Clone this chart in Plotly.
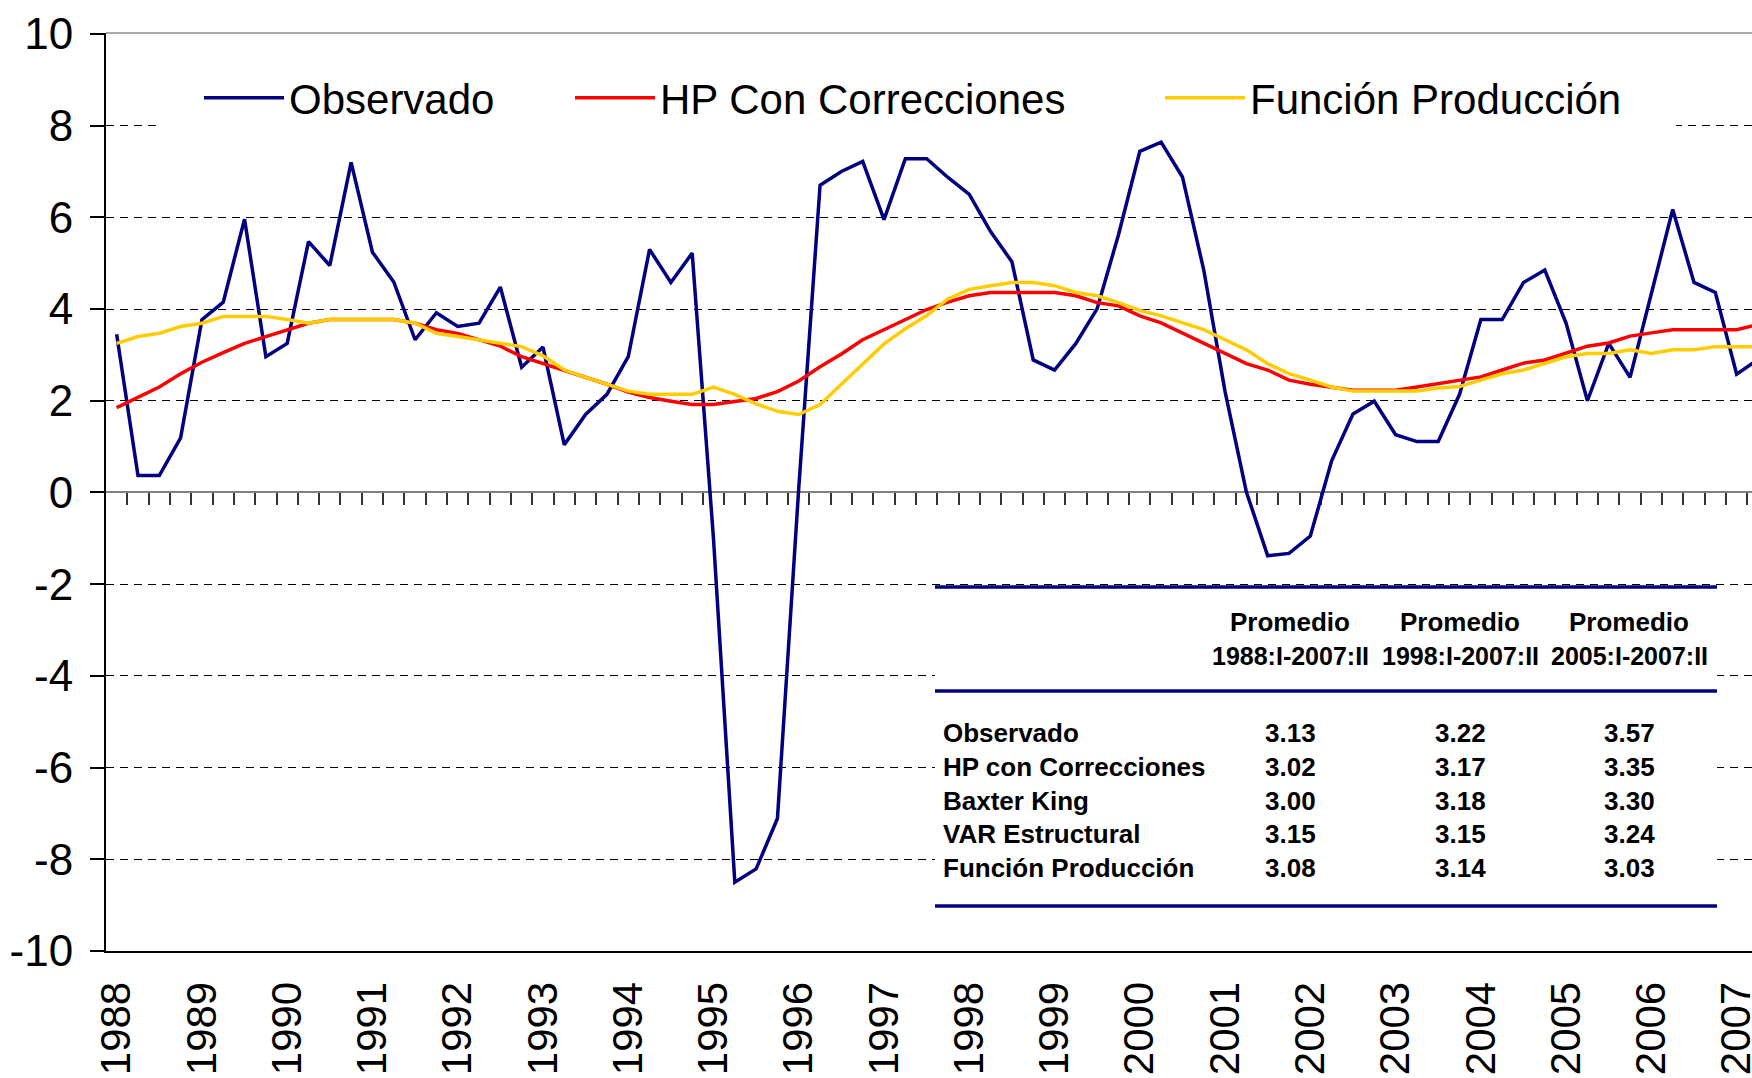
import plotly.graph_objects as go

# tasas trimestrales, 1988:I - 2007:II
start_year = 1988
observado = [3.45, 0.37, 0.37, 1.19, 3.77, 4.15, 5.96, 2.96, 3.25, 5.47,
             4.95, 7.20, 5.24, 4.59, 3.33, 3.92, 3.62, 3.69, 4.48, 2.73,
             3.17, 1.04, 1.70, 2.14, 2.96, 5.30, 4.58, 5.22, -1.01, -8.50,
             -8.21, -7.11, 0.10, 6.70, 7.00, 7.22, 5.95, 7.28, 7.28, 6.87,
             6.50, 5.69, 5.03, 2.89, 2.67, 3.25, 4.01, 5.62, 7.44, 7.64,
             6.88, 4.85, 2.20, 0.01, -1.38, -1.33, -0.95, 0.69, 1.71, 1.99,
             1.26, 1.11, 1.11, 2.14, 3.77, 3.77, 4.58, 4.85, 3.69, 2.00,
             3.25, 2.51, 4.34, 6.17, 4.58, 4.36, 2.58, 2.90]
hp_correcciones = [1.85, 2.08, 2.30, 2.59, 2.84, 3.05, 3.25, 3.40, 3.55, 3.69,
                   3.77, 3.77, 3.77, 3.77, 3.69, 3.55, 3.47, 3.33, 3.19, 2.96,
                   2.81, 2.67, 2.51, 2.36, 2.19, 2.07, 1.99, 1.92, 1.92, 1.98,
                   2.05, 2.20, 2.43, 2.74, 3.02, 3.33, 3.55, 3.77, 3.99, 4.15,
                   4.29, 4.36, 4.36, 4.36, 4.36, 4.29, 4.14, 4.07, 3.85, 3.70,
                   3.48, 3.25, 3.03, 2.81, 2.67, 2.45, 2.36, 2.29, 2.23, 2.23,
                   2.23, 2.30, 2.37, 2.45, 2.52, 2.67, 2.82, 2.89, 3.05, 3.19,
                   3.26, 3.41, 3.48, 3.55, 3.55, 3.55, 3.55, 3.66]
funcion_produccion = [3.25, 3.40, 3.47, 3.62, 3.69, 3.84, 3.84, 3.84, 3.77, 3.69,
                      3.77, 3.77, 3.77, 3.77, 3.69, 3.47, 3.40, 3.33, 3.25, 3.18,
                      2.98, 2.67, 2.51, 2.36, 2.21, 2.14, 2.14, 2.14, 2.30, 2.14,
                      1.93, 1.77, 1.70, 1.92, 2.36, 2.80, 3.24, 3.57, 3.86, 4.22,
                      4.43, 4.51, 4.58, 4.58, 4.51, 4.36, 4.29, 4.14, 3.97, 3.85,
                      3.69, 3.55, 3.33, 3.11, 2.81, 2.59, 2.45, 2.30, 2.21, 2.21,
                      2.21, 2.21, 2.28, 2.31, 2.45, 2.59, 2.67, 2.81, 2.96, 3.03,
                      3.03, 3.11, 3.03, 3.11, 3.11, 3.18, 3.18, 3.18]

year_labels = [str(y) for y in range(1988, 2008)]
y_ticks = list(range(-10, 11, 2))

# tabla de promedios
table_methods = ["Observado", "HP con Correcciones", "Baxter King",
                 "VAR Estructural", "Función Producción"]
table_periods = ["1988:I-2007:II", "1998:I-2007:II", "2005:I-2007:II"]
prom_1988 = [3.13, 3.02, 3.00, 3.15, 3.08]
prom_1998 = [3.22, 3.17, 3.18, 3.15, 3.14]
prom_2005 = [3.57, 3.35, 3.30, 3.24, 3.03]

x = [start_year + i / 4 for i in range(len(observado))]

W, H = 1752, 1078
L, R, T, B = 106, 0, 33, 127
PW, PH = W - L - R, H - T - B


def px(v):
    return (v - L) / PW


def py(v):
    return (H - B - v) / PH


FONT = "Liberation Sans, Arial, sans-serif"
NAVY = "#000080"

fig = go.Figure()
# blue on x, the two trends on x2 (the axis that sits on the zero line)
series = [("Observado", observado, NAVY, "legend", 199, "x"),
          ("HP Con Correcciones", hp_correcciones, "#FF0000", "legend2", 570, "x2"),
          ("Función Producción", funcion_produccion, "#FFCC00", "legend3", 1160, "x2")]
for name, vals, col, leg, _, xa in series:
    fig.add_trace(go.Scatter(x=x, y=vals, name=name, mode="lines", xaxis=xa,
                             line=dict(color=col, width=3.5), legend=leg))

legend_style = dict(orientation="h", xanchor="left", yanchor="middle",
                    y=py(98), bgcolor="rgba(0,0,0,0)", itemwidth=80,
                    font=dict(family=FONT, size=42, color="black"))
legends = {}
for _, _, _, leg, lx, _ in series:
    legends[leg] = dict(legend_style, x=px(lx))

shapes = [
    # borde gris superior del area de trazado
    dict(type="line", xref="paper", yref="paper", x0=0, x1=1, y0=1, y1=1,
         line=dict(color="#8c8c8c", width=1.5), layer="below"),
    # fondo de la leyenda
    dict(type="rect", xref="paper", yref="paper", x0=px(162), x1=px(1676),
         y0=py(137), y1=py(64), fillcolor="white", line_width=0, layer="above"),
    # fondo de la tabla
    dict(type="rect", xref="paper", yref="paper", x0=px(935), x1=px(1717),
         y0=py(907), y1=py(586), fillcolor="white", line_width=0, layer="above"),
]
for ly in (587, 691, 906):
    shapes.append(dict(type="line", xref="paper", yref="paper", x0=px(935), x1=px(1717),
                       y0=py(ly), y1=py(ly), line=dict(color=NAVY, width=3.5), layer="above"))

annotations = []
tfont = dict(family=FONT, size=26, color="black", weight="bold")
col_x = [1290, 1460, 1629]
for cx, per in zip(col_x, table_periods):
    annotations.append(dict(xref="paper", yref="paper", x=px(cx), y=py(622), text="Promedio",
                            showarrow=False, xanchor="center", yanchor="middle", font=tfont))
    annotations.append(dict(xref="paper", yref="paper", x=px(cx), y=py(656), text=per,
                            showarrow=False, xanchor="center", yanchor="middle",
                            font=dict(tfont, size=25)))
row_y = [733, 767, 801, 834.5, 868]
for ry, m, a, b, c in zip(row_y, table_methods, prom_1988, prom_1998, prom_2005):
    annotations.append(dict(xref="paper", yref="paper", x=px(941), y=py(ry), text=m,
                            showarrow=False, xanchor="left", yanchor="middle", font=tfont))
    for cx, v in zip(col_x, (a, b, c)):
        annotations.append(dict(xref="paper", yref="paper", x=px(cx), y=py(ry), text=f"{v:.2f}",
                                showarrow=False, xanchor="center", yanchor="middle", font=tfont))

fig.update_layout(
    width=W, height=H,
    margin=dict(l=L, r=R, t=T, b=B, autoexpand=False),
    paper_bgcolor="white", plot_bgcolor="white",
    font=dict(family=FONT, size=42, color="black"),
    showlegend=True,
    legend=legends["legend"], legend2=legends["legend2"], legend3=legends["legend3"],
    xaxis=dict(range=[start_year - 0.125, start_year + 76.72 / 4],
               tickvals=[int(y) for y in year_labels], ticktext=year_labels,
               tickangle=-90, ticks="", showgrid=False, zeroline=False,
               showline=True, linecolor="black", linewidth=2,
               tickfont=dict(family=FONT, size=42, color="black"),
               ticklabelstandoff=12, ticklabeloverflow="allow", automargin=False),
    xaxis2=dict(overlaying="x", matches="x", anchor="free", position=0.5, side="bottom",
                tickvals=[start_year - 0.125 + 0.25 * k for k in range(1, 80)],
                showticklabels=False, ticks="outside", ticklen=12, tickwidth=1.5,
                tickcolor="#333333", showline=True, linecolor="#808080", linewidth=2,
                showgrid=False, zeroline=False, layer="below traces"),
    yaxis=dict(range=[-10, 10.02], tickvals=y_ticks, ticktext=[str(v) for v in y_ticks],
               showgrid=True, gridcolor="black", gridwidth=1, griddash="8px,6px",
               zeroline=False, showline=True, linecolor="black", linewidth=2,
               ticks="outside", ticklen=14, tickcolor="black", tickwidth=1.5,
               tickfont=dict(family=FONT, size=44, color="black"),
               ticklabelstandoff=8, automargin=False),
    shapes=shapes, annotations=annotations,
)

# the page body has a default 8px margin; drop it so the figure fills the window
fig.write_html("out.html", config={"displayModeBar": False},
               post_script="document.body.style.margin='0';")
